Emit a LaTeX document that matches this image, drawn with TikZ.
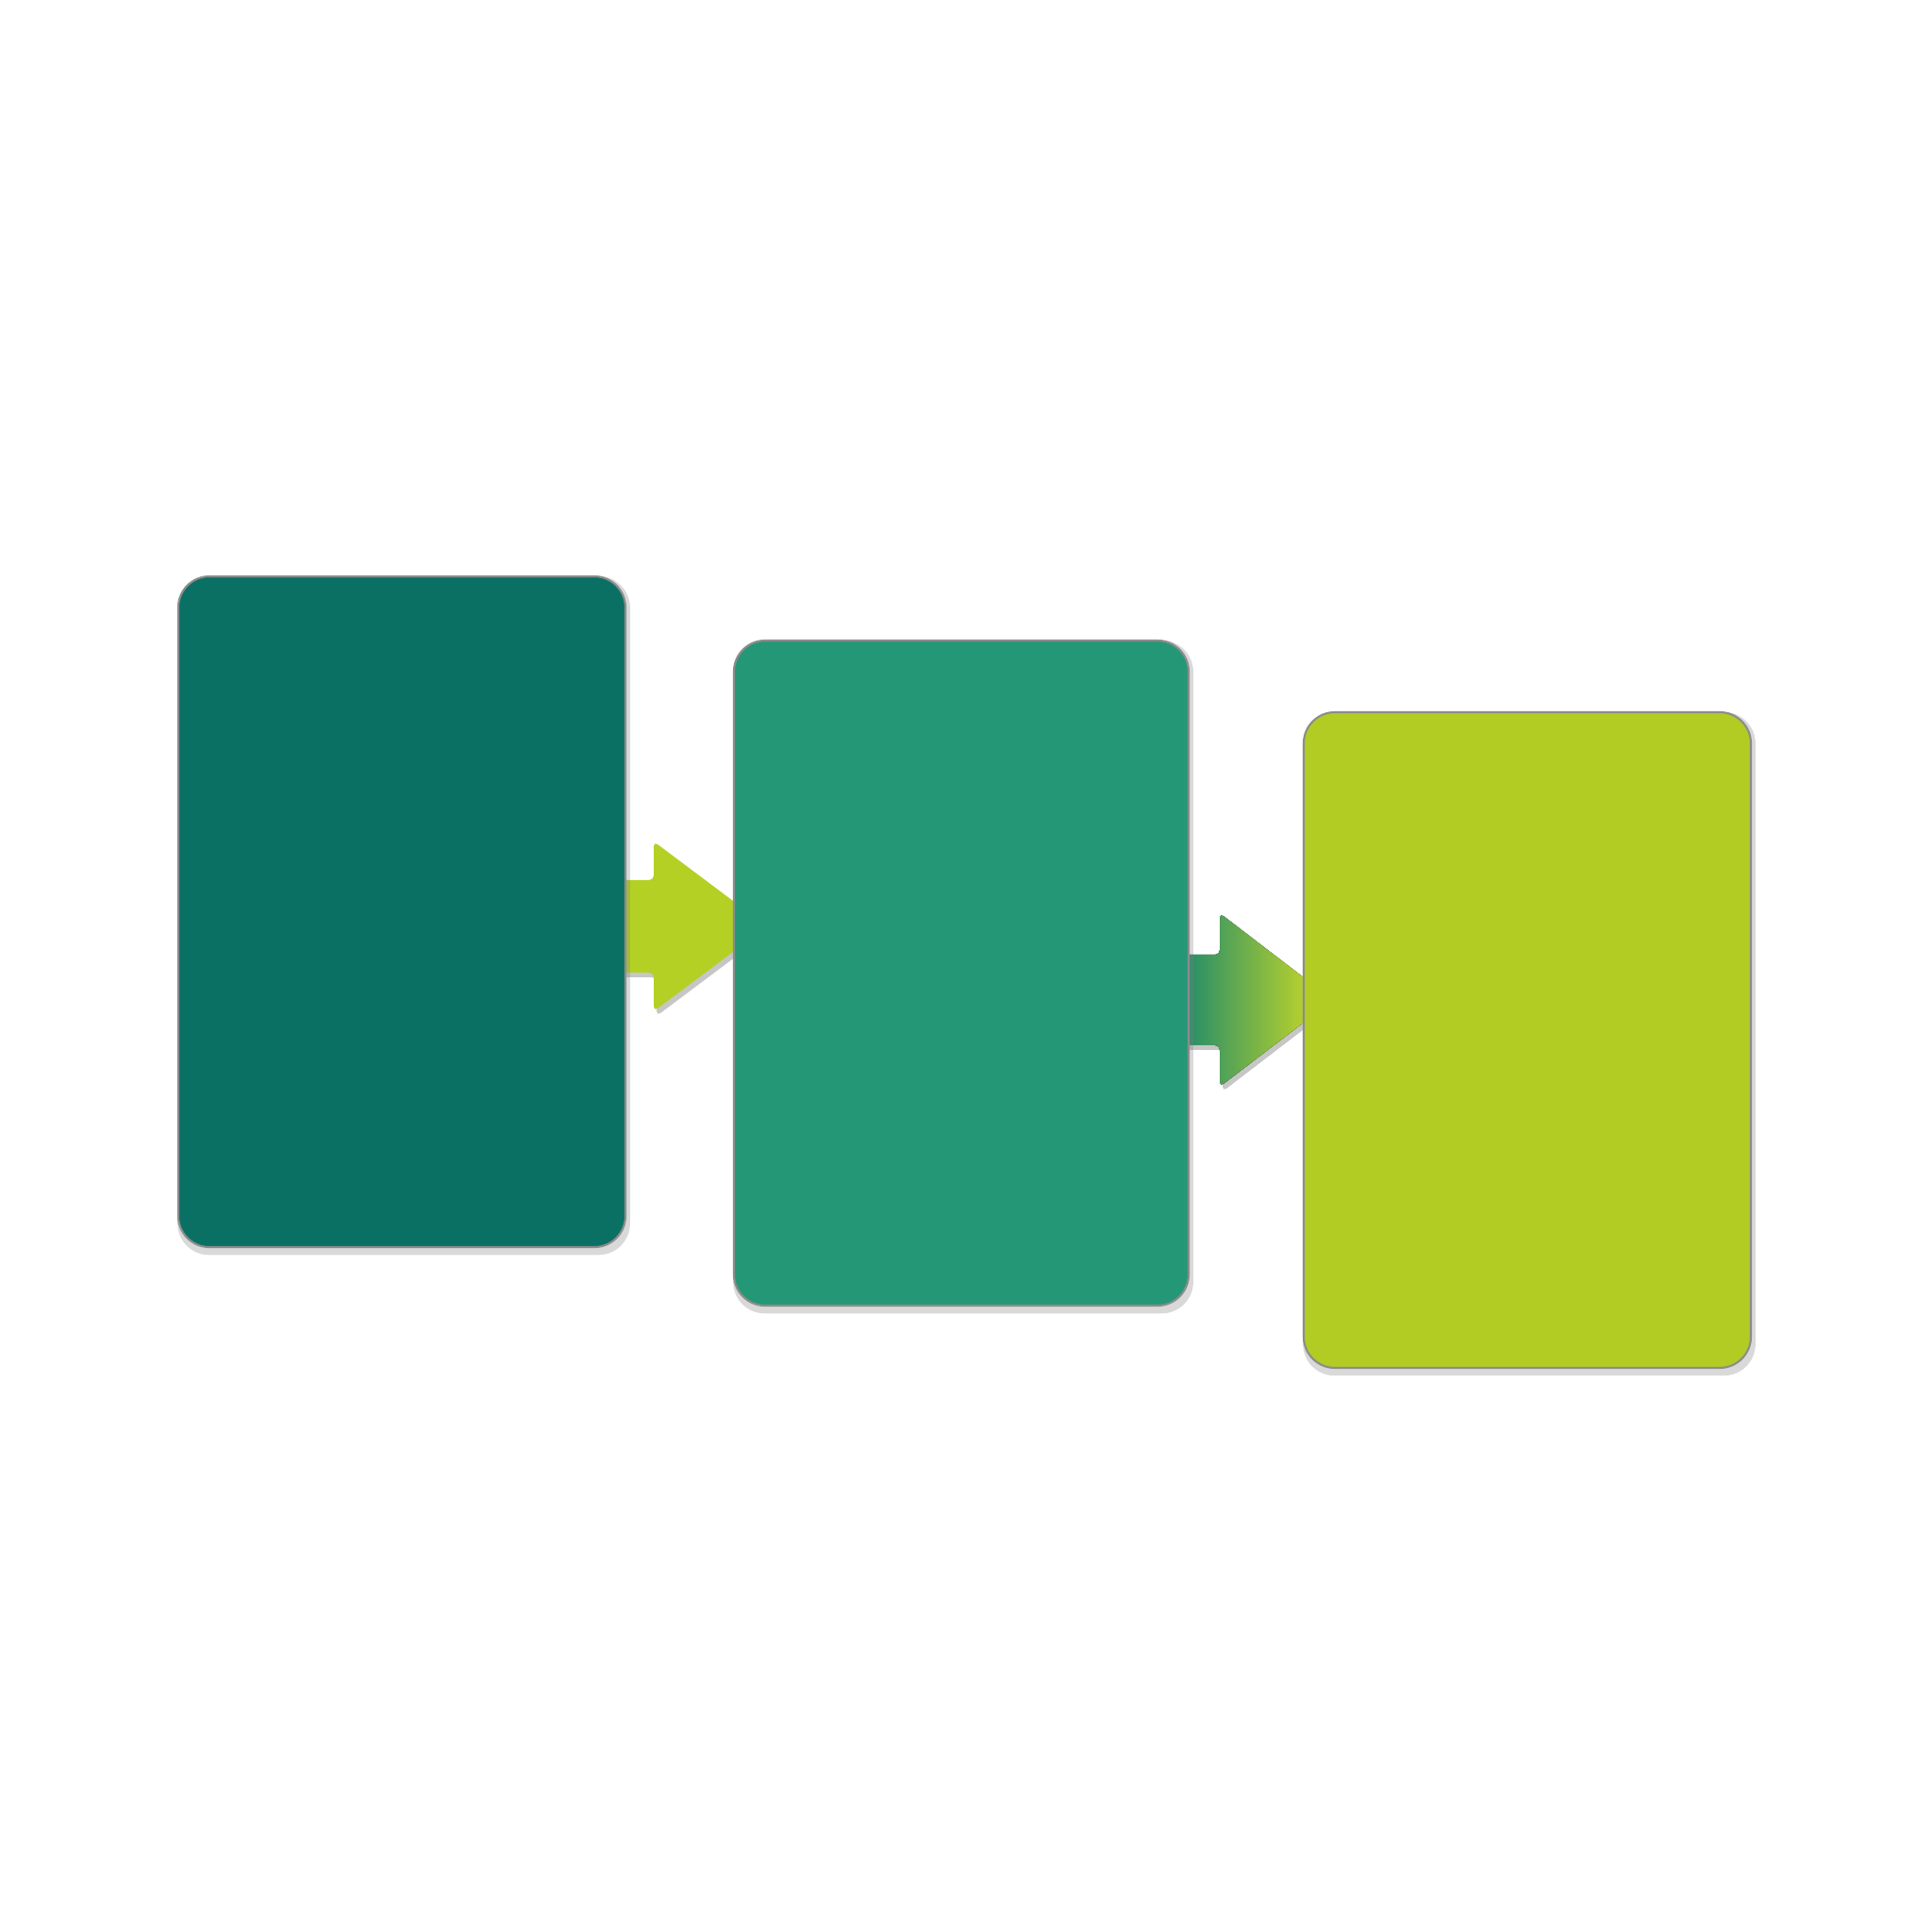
\documentclass[tikz,border=0pt]{standalone}
\usepackage{xcolor}
\usepackage{tikz}
\usetikzlibrary{shapes, arrows.meta, positioning, calc, shadows, backgrounds}

\definecolor{stagedark}{HTML}{0A7064}
\definecolor{stagemid}{HTML}{249876}
\definecolor{stagelime}{HTML}{B2CC24}
\definecolor{arrowlime}{HTML}{B4D024}
\definecolor{arrowteal}{HTML}{1E8A6C}
\definecolor{arrowyellow}{HTML}{D8E020}

\tikzset{
    stagebox/.style={draw=black!45, line width=0.6pt, rectangle, rounded corners=0.33cm,
        minimum width=4.74cm, minimum height=7cm, inner sep=0pt,
        drop shadow={opacity=0.3, shadow xshift=0.02cm, shadow yshift=-0.04cm, shadow scale=1.012}},
    flowarrow/.style={drop shadow={opacity=0.45, shadow xshift=0.03cm, shadow yshift=-0.05cm}},
}

\begin{document}
\begin{tikzpicture}
            \useasboundingbox (0,0) rectangle (20.48,20.48);

            % the three stages
            \node[stagebox, fill=stagedark, minimum height=7.11cm] (stage1) at (4.26,10.815) {};
            \node[stagebox, fill=stagemid, minimum width=4.82cm, minimum height=7.05cm] (stage2) at (10.19,10.165) {};
            \node[stagebox, fill=stagelime, minimum height=6.95cm] (stage3) at (16.19,9.455) {};

            % arrows between the stages
            \coordinate (a1) at ($(stage1.east)+(-0.08,-0.155)$);
            \coordinate (a2) at ($(stage2.east)+(-0.1,-0.285)$);
            \begin{pgfonlayer}{background}
                \fill[flowarrow, fill=arrowlime, rounded corners=0.05cm] (a1) ++(0,0.49) -- ++(0.37,0) -- ++(0,0.41)
                    -- ++(1.2,-0.9) -- ++(-1.2,-0.9) -- ++(0,0.41) -- ++(-0.37,0) -- cycle;
                \fill[flowarrow, left color=arrowteal, right color=arrowyellow, rounded corners=0.05cm] (a2) ++(0,0.48) -- ++(0.42,0) -- ++(0,0.44)
                    -- ++(1.2,-0.92) -- ++(-1.2,-0.92) -- ++(0,0.44) -- ++(-0.42,0) -- cycle;
            \end{pgfonlayer}
        \end{tikzpicture}
\end{document}
